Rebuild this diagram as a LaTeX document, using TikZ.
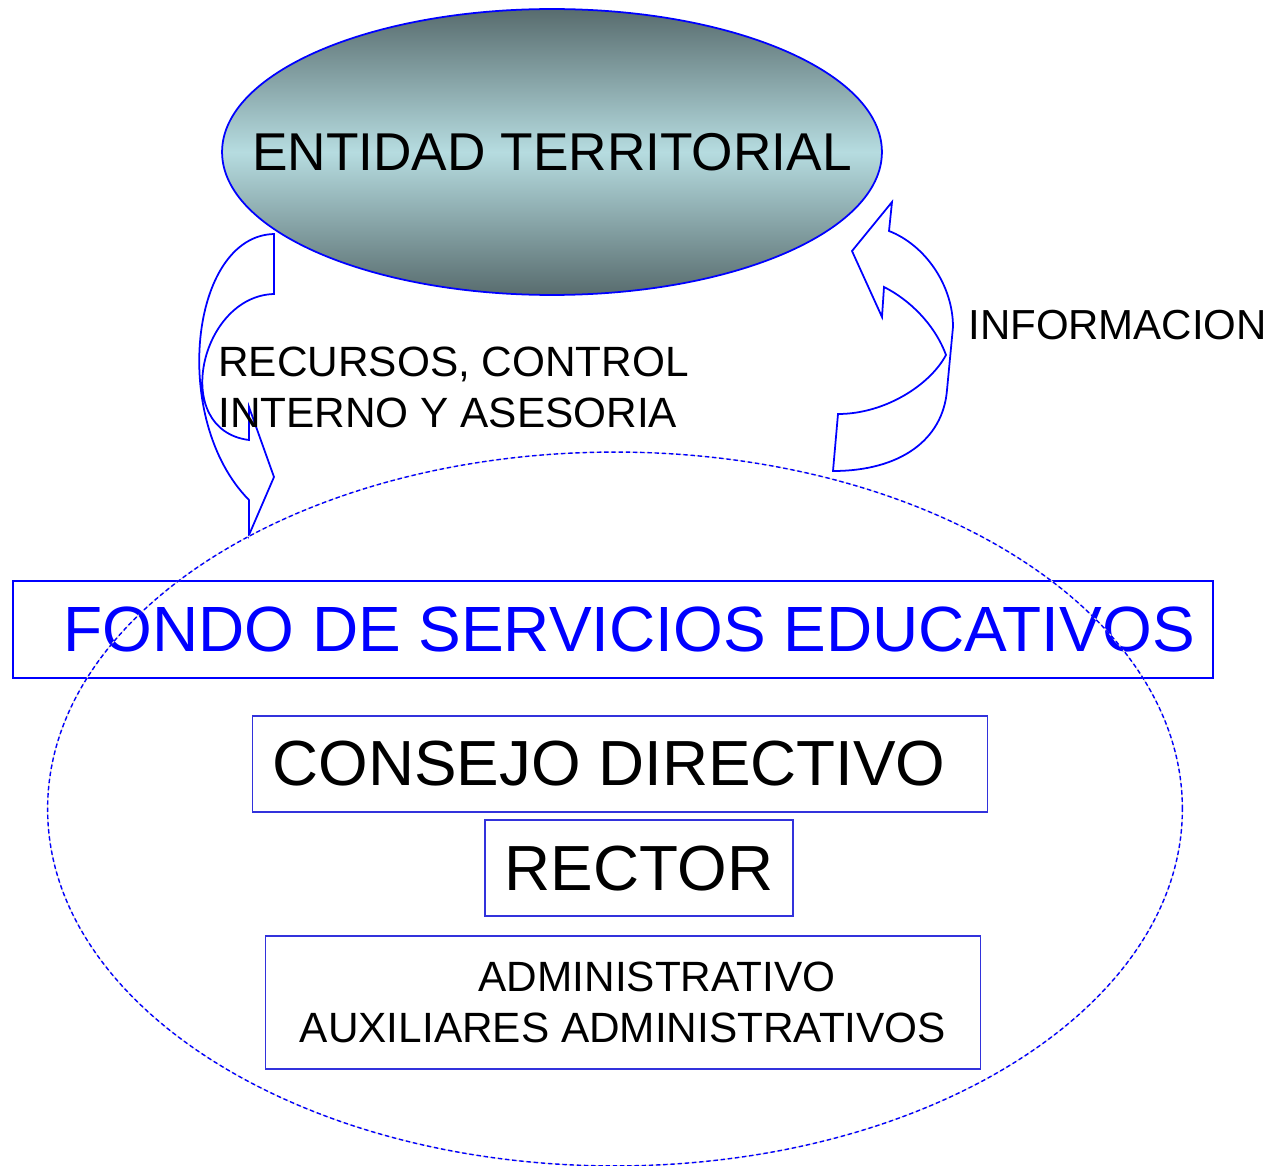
\documentclass[tikz,border=0pt]{standalone}
\usepackage{fontspec}
\setmainfont{Liberation Sans}
\usetikzlibrary{shapes.geometric,positioning}

\definecolor{tealdark}{RGB}{88,108,110}
\definecolor{teallight}{RGB}{182,220,224}
\definecolor{boxblue}{RGB}{50,50,220}
\definecolor{dashbeige}{RGB}{235,225,205}

\begin{document}
\begin{tikzpicture}[
    x=0.02cm, y=-0.02cm,
    entity/.style={ellipse, draw=blue, line width=1pt, top color=tealdark, bottom color=tealdark, middle color=teallight, minimum width=13.2cm, minimum height=5.72cm, inner sep=0pt},
    entity_text/.style={font=\fontsize{30.3}{36}\selectfont},
    fund_area/.style={ellipse, draw=blue, line width=0.8pt, dash pattern=on 2.5pt off 1.6pt, preaction={draw=dashbeige, solid, line width=0.6pt}, minimum width=22.7cm, minimum height=14.28cm, inner sep=0pt},
    title_box/.style={rectangle, draw=blue, line width=1.1pt, text=blue, minimum width=24cm, minimum height=1.94cm, inner sep=0pt, font=\fontsize{36.4}{43}\selectfont},
    member_box/.style={rectangle, draw=boxblue, line width=1pt, minimum height=1.92cm, inner sep=0pt, font=\fontsize{36.3}{43}\selectfont},
    staff_box/.style={rectangle, draw=boxblue, line width=1pt, minimum width=14.3cm, minimum height=2.66cm, inner sep=0pt, align=center, font=\fontsize{24.1}{28.9}\selectfont},
    flow_label/.style={inner sep=0pt, font=\fontsize{24.1}{28.9}\selectfont},
    blockarrow/.style={draw=blue, line width=1pt, line join=miter}
]
\useasboundingbox (0,0) rectangle (1272,1166);
% Entidad territorial
\node[entity, label={[entity_text]center:ENTIDAD TERRITORIAL}] (entity) at (552,152) {};
% Curved block arrows
\draw[blockarrow] (274,234) -- (274,294) .. controls (200,296) and (170,430) .. (249,440) -- (249,407) -- (274,477) -- (249,535) -- (249,500) .. controls (170,420) and (190,236) .. (274,234) -- cycle;
\draw[blockarrow] (833,471) -- (838,414) .. controls (885,414) and (930,385) .. (946,355) .. controls (935,325) and (910,300) .. (884,287) -- (882,317) -- (852,251) -- (892,202) -- (889,231) .. controls (925,245) and (953,285) .. (953,327) -- (947,390) .. controls (943,440) and (900,471) .. (833,471) -- cycle;
% Labels
\node[flow_label, anchor=north west, align=left] (resources) at (218,347) {RECURSOS, CONTROL\\INTERNO Y ASESORIA};
\node[flow_label, anchor=base west, font=\fontsize{23.9}{28}\selectfont] (information) at (968,339) {INFORMACION};
% Fondo and its members
\node[title_box] (fund_title) at (613,629.5) {\hspace*{0.64cm}FONDO DE SERVICIOS EDUCATIVOS};
\node[member_box, minimum width=14.7cm, below=0.72cm of fund_title, xshift=0.14cm] (council) {CONSEJO DIRECTIVO\hspace*{0.44cm}};
\node[member_box, minimum width=6.16cm, below=0.13cm of council, xshift=0.38cm] (rector) {RECTOR};
\node[staff_box, below=0.37cm of rector, xshift=-0.32cm] (staff) {\hspace*{1.36cm}ADMINISTRATIVO\\AUXILIARES ADMINISTRATIVOS};
% Dashed boundary
\node[fund_area] (fund_area) at (615,809) {};
\end{tikzpicture}
\end{document}
